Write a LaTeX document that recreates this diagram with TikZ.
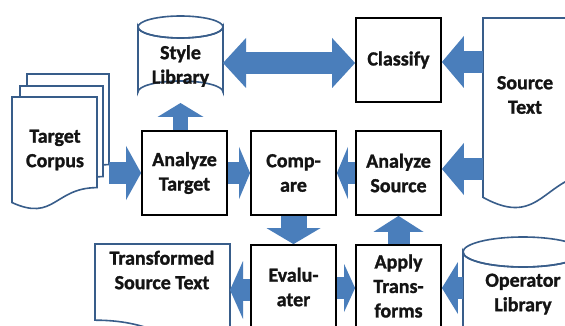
\documentclass[tikz,border=0pt]{standalone}
\usepackage{fontspec}
\setmainfont{Carlito}[BoldFont={Carlito Bold},BoldFeatures={FakeBold=1.3}]
\usetikzlibrary{arrows.meta,calc}
\definecolor{arrowblue}{RGB}{74,126,187}
\definecolor{docblue}{RGB}{56,93,138}
\definecolor{txt}{RGB}{20,20,20}
\newcommand\docpath[4]{(#1,#2) -- (#3,#2) -- (#3,{#2+0.802*#4}) .. controls ({(#1+#3)/2},{#2+0.802*#4}) and ({(#1+#3)/2},{#2+1.107*#4}) .. (#1,{#2+0.934*#4}) -- cycle}
\newcommand\docpathm[4]{(#1,#2) -- (#3,#2) -- (#3,{#2+0.934*#4}) .. controls ({(#1+#3)/2},{#2+1.107*#4}) and ({(#1+#3)/2},{#2+0.802*#4}) .. (#1,{#2+0.802*#4}) -- cycle}
\newcommand\cylpath[5]{({#1-#3},#2) -- ({#1-#3},#5) arc[start angle=180,end angle=360,x radius=#3,y radius=#4] -- ({#1+#3},#2) arc[start angle=0,end angle=180,x radius=#3,y radius=#4] -- cycle}
\tikzset{
  box/.style={draw=black,line width=1.8pt,fill=white,minimum width=85pt,minimum height=84pt,inner sep=0pt},
  lbl/.style={align=center,font=\fontsize{20}{24.5}\selectfont\bfseries,text=txt,inner sep=0pt},
  docline/.style={draw=docblue,line width=1.6pt,fill=white},
  barrow/.style 2 args={draw=arrowblue,line width=22pt,-{Triangle[length=#1,width=#2,line width=0pt]}},
  dbarrow/.style 2 args={draw=arrowblue,line width=22pt,{Triangle[length=#1,width=#2,line width=0pt]}-{Triangle[length=#1,width=#2,line width=0pt]}},
}
\begin{document}
\begin{tikzpicture}[x=1pt,y=-1pt]
\useasboundingbox (0,0) rectangle (565,326);
\fill[white] (0,0) rectangle (565,326);
% Target Corpus (stack of pages)
\path[docline] \docpath{27}{74}{109}{113};
\path[docline] \docpath{20}{86}{103}{113};
\path[docline] \docpath{12}{97}{97}{113};
\node[lbl] (tc) at (55,150) {Target\\Corpus};
% Source Text document
\path[docline] \docpath{483}{18}{603}{192};
\node[lbl] (src) at (525,95) {Source\\Text};
% Transformed Source Text
\path[docline] \docpathm{95}{244}{230}{95};
\node[lbl] (tst) at (162,270) {Transformed\\Source Text};
% Style Library cylinder
\path[docline] \cylpath{180.5}{27}{42.5}{11}{92};
\draw[docblue,line width=1.6pt] (180.5,27) ellipse [x radius=42.5,y radius=11];
\node[lbl] (sl) at (180.5,66) {Style\\Library};
% Operator Library cylinder
\path[docline] \cylpath{523}{252}{60}{15}{345};
\draw[docblue,line width=1.6pt] (523,252) ellipse [x radius=60,y radius=15];
\node[lbl] (op) at (523,294) {Operator\\Library};
% boxes
\node[box] (cls) at (398.5,60) {};
\node[lbl] (clst) at (cls) {Classify};
\node[box] (at) at (184.5,173) {};
\node[lbl] (att) at (at) {Analyze\\Target};
\node[box] (cmp) at (293.5,173) {};
\node[lbl] (cmpt) at (cmp) {Comp-\\are};
\node[box] (as) at (398.5,173) {};
\node[lbl] (ast) at (as) {Analyze\\Source};
\node[box,minimum height=100pt] (ev) at (293.5,295) {};
\node[lbl] (evt) at (293.5,287) {Evalu-\\ater};
\node[box,minimum height=100pt] (ap) at (398.5,295) {};
\node[lbl] (apt) at (398.5,286) {Apply\\Trans-\\forms};
% anchor coordinates
\coordinate (tcR) at (109,173);
\coordinate (srcA) at (483,169);
\coordinate (srcB) at (483,62);
\coordinate (slR) at (223,63);
\coordinate (slB) at (180.5,103);
\coordinate (r1) at (0,288);
\coordinate (tstR) at (230,290);
\coordinate (opL) at (463,288);
% arrows
\draw[barrow={15pt}{54pt}] (tcR) -- (tcR -| at.west);
\draw[barrow={11pt}{52pt}] (at.east) -- (cmp.west);
\draw[barrow={11pt}{52pt}] (as.west) -- (cmp.east);
\draw[barrow={22pt}{52pt}] (srcA) -- (srcA -| as.east);
\draw[barrow={22pt}{52pt}] (srcB) -- (srcB -| cls.east);
\draw[dbarrow={23pt}{50pt}] (slR) -- (slR -| cls.west);
\draw[barrow={14pt}{46pt},line width=15pt] (slB |- at.north) -- (slB);
\draw[barrow={16pt}{54pt},line width=26pt] (cmp.south) -- (ev.north);
\draw[barrow={16pt}{50pt}] (ap.north) -- (as.south);
\draw[barrow={11pt}{48pt}] (ev.east |- r1) -- (ap.west |- r1);
\draw[barrow={13pt}{58pt}] (ev.west |- tstR) -- (tstR);
\draw[barrow={16pt}{52pt}] (opL) -- (opL -| ap.east);
\end{tikzpicture}
\end{document}
